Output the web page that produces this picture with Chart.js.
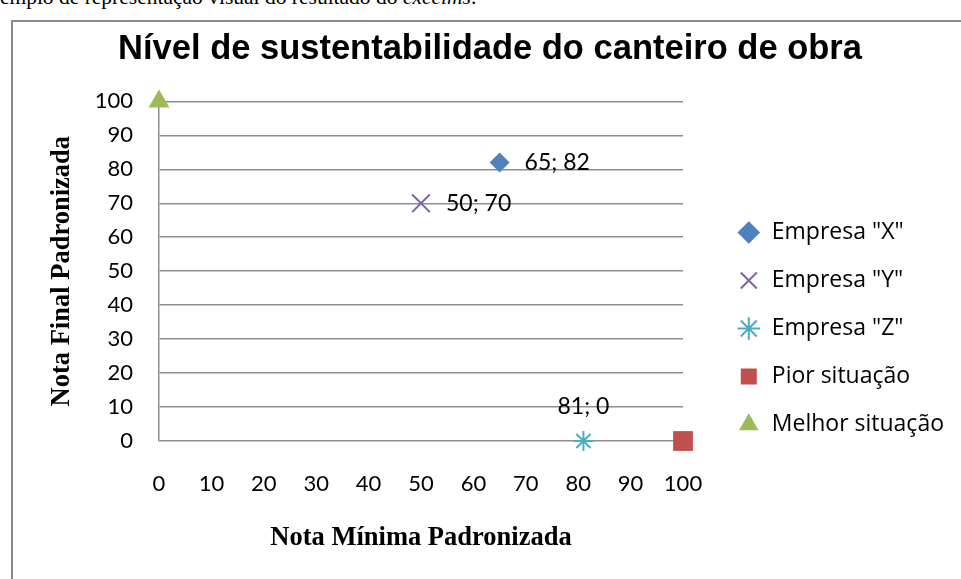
<!DOCTYPE html>
<html lang="pt">
<head>
<meta charset="UTF-8">
<title>Nível de sustentabilidade do canteiro de obra</title>
<script src="https://cdn.jsdelivr.net/npm/chart.js"></script>
<style>
    body, html {
        margin: 0;
        padding: 0;
        width: 100%;
        height: 100%;
        overflow: hidden;
        background: #fff;
    }
    .caption {
        position: absolute;
        left: -24px;
        top: -13px;
        line-height: 1;
        font-family: "Liberation Serif", "Times New Roman", serif;
        font-size: 21.5px;
        white-space: nowrap;
        color: #000;
    }
    .frame {
        position: absolute;
        left: 11px;
        top: 20px;
        width: 1000px;
        height: 700px;
        border-left: 2px solid #8a8a8a;
        border-top: 2px solid #8a8a8a;
    }
    .wrap {
        position: absolute;
        left: 0;
        top: 0;
        width: 961px;
        height: 579px;
    }
</style>
</head>
<body>
<div class="caption">Exemplo de representação visual do resultado do <i>excelms</i>.</div>
<div class="frame"></div>
<div class="wrap"><canvas id="chart"></canvas></div>

<script>
    // series and values
    const seriesNames = ['Empresa "X"', 'Empresa "Y"', 'Empresa "Z"', 'Pior situação', 'Melhor situação'];
    const xValues = [65, 50, 81, 100, 0];
    const yValues = [82, 70, 0, 0, 100];
    const labelPlace = ['right', 'right', 'above', null, null];
    const axisTicks = [0, 10, 20, 30, 40, 50, 60, 70, 80, 90, 100];

    const colors = ['#4F81BD', '#8064A2', '#4BACC6', '#C0504D', '#9BBB59'];
    const shapes = ['rectRot', 'crossRot', 'star', 'rect', 'triangle'];
    const radii = [10, 12.5, 10, 14, 12];

    const tickFont = { family: 'Lato', size: 22 };
    const plotRight = 683;   // where the x axis ends, legend sits right of it
    const padLeft = 26, padRight = 7;

    const pointLabels = {
        id: 'pointLabels',
        afterDatasetsDraw(chart) {
            const ctx = chart.ctx;
            ctx.save();
            ctx.font = '23px Lato';
            ctx.fillStyle = '#000';
            ctx.textBaseline = 'middle';
            chart.data.datasets.forEach((ds, i) => {
                const where = labelPlace[i];
                if (!where) return;
                const pt = chart.getDatasetMeta(i).data[0];
                const v = ds.data[0];
                const text = v.x + '; ' + v.y;
                if (where === 'right') {
                    ctx.textAlign = 'left';
                    ctx.fillText(text, pt.x + 25, pt.y);
                } else {
                    ctx.textAlign = 'center';
                    ctx.fillText(text, pt.x, pt.y - 34);
                }
            });
            ctx.restore();
        }
    };

    const datasets = seriesNames.map((name, i) => ({
        label: name,
        data: [{ x: xValues[i], y: yValues[i] }],
        pointStyle: shapes[i],
        pointRadius: radii[i],
        pointHoverRadius: radii[i],
        backgroundColor: colors[i],
        borderColor: colors[i],
        borderWidth: (shapes[i] === 'crossRot' || shapes[i] === 'star') ? 2 : 0,
        clip: false
    }));

    new Chart(document.getElementById('chart'), {
        type: 'scatter',
        data: { datasets },
        plugins: [pointLabels],
        options: {
            responsive: true,
            maintainAspectRatio: false,
            animation: false,
            layout: { padding: { left: padLeft, right: padRight, top: 0, bottom: 0 } },
            scales: {
                x: {
                    type: 'linear',
                    min: axisTicks[0],
                    max: axisTicks[axisTicks.length - 1],
                    grid: { display: false, drawTicks: false },
                    border: { display: false },
                    afterBuildTicks: s => { s.ticks = axisTicks.map(v => ({ value: v })); },
                    afterFit: s => { s.height = 138; },
                    ticks: { color: '#000', font: tickFont, padding: 30, maxRotation: 0 },
                    title: {
                        display: true,
                        text: 'Nota Mínima Padronizada',
                        color: '#000',
                        font: { family: 'Liberation Serif', size: 26.5, weight: 'bold' },
                        padding: { top: 0, bottom: 25 }
                    }
                },
                y: {
                    type: 'linear',
                    min: axisTicks[0],
                    max: axisTicks[axisTicks.length - 1],
                    grid: { color: '#8e8e8e', lineWidth: 1.5, drawTicks: false },
                    border: { display: true, color: '#8e8e8e', width: 1.5 },
                    afterBuildTicks: s => { s.ticks = axisTicks.map(v => ({ value: v })); },
                    afterFit: s => { s.width = 159 - padLeft; },
                    ticks: { color: '#000', font: tickFont, padding: 26 },
                    title: {
                        display: true,
                        text: 'Nota Final Padronizada',
                        color: '#000',
                        font: { family: 'Liberation Serif', size: 26.5, weight: 'bold' },
                        padding: { top: 20, bottom: 0 }
                    }
                },
                gap: {
                    type: 'linear',
                    position: 'right',
                    display: true,
                    grid: { display: false, drawTicks: false },
                    border: { display: false },
                    ticks: { display: false },
                    afterFit: s => {
                        const lw = s.chart.legend ? s.chart.legend.width : 0;
                        s.width = Math.max(0, s.chart.width - padRight - plotRight - lw);
                    }
                }
            },
            plugins: {
                title: {
                    display: true,
                    text: 'Nível de sustentabilidade do canteiro de obra',
                    color: '#000',
                    font: { family: 'Liberation Sans', size: 34.5, weight: 'bold' },
                    padding: { top: 29, bottom: 31 }
                },
                legend: {
                    position: 'right',
                    maxWidth: 300,
                    title: { display: true, text: ' ', font: { size: 10 }, padding: { top: 66, bottom: 0 } },
                    labels: {
                        usePointStyle: true,
                        boxHeight: 16,
                        color: '#000',
                        font: { family: 'Open Sans', size: 23 },
                        padding: 25
                    }
                },
                tooltip: { enabled: false }
            }
        }
    });
</script>
</body>
</html>
